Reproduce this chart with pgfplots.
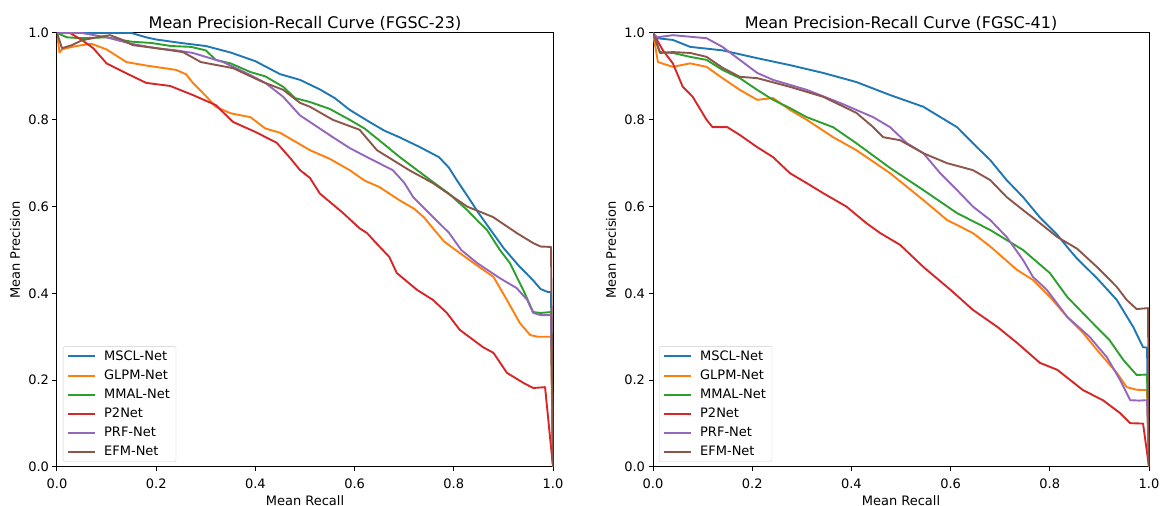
\documentclass[border=0pt]{standalone}
\usepackage{pgfplots}
\pgfplotsset{compat=1.18}
\usepackage{fontspec}
\setmainfont{DejaVu Sans}
\definecolor{c0}{HTML}{1F77B4}
\definecolor{c1}{HTML}{FF7F0E}
\definecolor{c2}{HTML}{2CA02C}
\definecolor{c3}{HTML}{D62728}
\definecolor{c4}{HTML}{9467BD}
\definecolor{c5}{HTML}{8C564B}
\pgfplotsset{
  pl/.style={line width=1.9pt, line join=round, no markers},
  prstyle/.style={
    scale only axis, width=496pt, height=434pt,
    xmin=0, xmax=1, ymin=0, ymax=1,
    xtick={0,0.2,0.4,0.6,0.8,1.0}, ytick={0,0.2,0.4,0.6,0.8,1.0},
    xtick pos=left, ytick pos=left, tick align=outside,
    major tick length=4.5pt,
    every tick/.style={black, line width=1pt},
    axis line style={black, line width=1pt},
    /pgf/number format/assume math mode=true,
    /pgf/number format/fixed, /pgf/number format/fixed zerofill, /pgf/number format/precision=1,
    tick label style={font=\fontsize{13}{15}\selectfont},
    xticklabel style={yshift=-4pt},
    xlabel={Mean Recall}, ylabel={Mean Precision},
    label style={font=\fontsize{13}{15}\selectfont},
    xlabel style={at={(axis description cs:0.5,0)}, anchor=base, yshift=-38pt},
    ylabel style={at={(axis description cs:-0.0847,0.5)}, anchor=center},
    title style={at={(axis description cs:0.5,1)}, anchor=base, yshift=-2pt, inner sep=0pt, font=\fontsize{16}{19}\selectfont},
    legend cell align=left,
    legend style={at={(axis description cs:0,0)}, anchor=south west, xshift=6pt, yshift=5pt,
      draw=black!20, rounded corners=2pt, font=\fontsize{13}{15}\selectfont,
      inner xsep=4pt, inner ysep=2.5pt, row sep=4pt},
    legend image code/.code={\draw[#1, line width=2pt] (0pt,0pt) -- (27pt,0pt); \path (33pt,0pt);},
  }
}
\begin{document}
\begin{tikzpicture}
\begin{axis}[prstyle, title={Mean Precision-Recall Curve (FGSC-23)}]
\addplot[c0, pl] coordinates {(0,1) (0.05,1) (0.1,1) (0.15,1) (0.18,0.99) (0.2,0.985) (0.25,0.977) (0.3,0.97) (0.35,0.955) (0.4,0.935) (0.45,0.905) (0.49,0.892) (0.53,0.87) (0.56,0.85) (0.59,0.823) (0.63,0.795) (0.66,0.775) (0.69,0.76) (0.73,0.738) (0.77,0.714) (0.79,0.69) (0.806,0.661) (0.83,0.62) (0.85,0.585) (0.875,0.545) (0.9,0.505) (0.93,0.465) (0.96,0.43) (0.975,0.41) (0.99,0.403) (0.996,0.403) (1.0,0)};
\addlegendentry{MSCL-Net}
\addplot[c1, pl] coordinates {(0,1) (0.005,0.955) (0.01,0.962) (0.03,0.968) (0.05,0.972) (0.07,0.975) (0.1,0.962) (0.14,0.933) (0.18,0.925) (0.24,0.915) (0.26,0.905) (0.274,0.885) (0.3,0.855) (0.32,0.83) (0.35,0.815) (0.39,0.806) (0.42,0.78) (0.45,0.77) (0.48,0.75) (0.51,0.73) (0.55,0.71) (0.59,0.684) (0.62,0.66) (0.65,0.645) (0.69,0.615) (0.72,0.595) (0.74,0.575) (0.758,0.55) (0.78,0.52) (0.8,0.503) (0.84,0.47) (0.88,0.438) (0.907,0.385) (0.933,0.332) (0.954,0.304) (0.97,0.30) (0.996,0.30) (1.0,0)};
\addlegendentry{GLPM-Net}
\addplot[c2, pl] coordinates {(0,1) (0.02,0.99) (0.05,0.988) (0.1,0.99) (0.15,0.98) (0.19,0.977) (0.23,0.97) (0.27,0.968) (0.3,0.96) (0.32,0.938) (0.35,0.93) (0.39,0.91) (0.42,0.9) (0.456,0.876) (0.48,0.85) (0.51,0.841) (0.55,0.825) (0.59,0.80) (0.62,0.78) (0.657,0.746) (0.69,0.715) (0.726,0.684) (0.76,0.655) (0.79,0.63) (0.827,0.592) (0.85,0.565) (0.867,0.546) (0.893,0.5) (0.913,0.47) (0.94,0.408) (0.96,0.357) (0.975,0.355) (0.996,0.357) (1.0,0)};
\addlegendentry{MMAL-Net}
\addplot[c3, pl] coordinates {(0,1) (0.026,1) (0.05,0.984) (0.073,0.965) (0.1,0.93) (0.14,0.907) (0.18,0.885) (0.228,0.878) (0.274,0.857) (0.32,0.834) (0.355,0.795) (0.4,0.772) (0.443,0.747) (0.47,0.712) (0.49,0.684) (0.51,0.666) (0.53,0.63) (0.577,0.585) (0.61,0.55) (0.625,0.539) (0.65,0.508) (0.67,0.484) (0.685,0.447) (0.726,0.408) (0.758,0.385) (0.786,0.355) (0.812,0.316) (0.859,0.276) (0.88,0.263) (0.907,0.217) (0.94,0.194) (0.96,0.182) (0.984,0.184) (1.0,0)};
\addlegendentry{P2Net}
\addplot[c4, pl] coordinates {(0,1) (0.05,1) (0.1,0.99) (0.15,0.975) (0.2,0.965) (0.24,0.96) (0.274,0.954) (0.3,0.945) (0.335,0.933) (0.39,0.903) (0.42,0.885) (0.456,0.853) (0.49,0.81) (0.51,0.795) (0.556,0.76) (0.59,0.735) (0.625,0.714) (0.677,0.684) (0.7,0.655) (0.718,0.622) (0.758,0.576) (0.79,0.54) (0.815,0.5) (0.847,0.47) (0.893,0.435) (0.927,0.412) (0.948,0.385) (0.96,0.355) (0.975,0.35) (0.996,0.35) (1.0,0)};
\addlegendentry{PRF-Net}
\addplot[c5, pl] coordinates {(0,1) (0.01,0.965) (0.03,0.972) (0.05,0.983) (0.08,0.99) (0.107,0.995) (0.13,0.985) (0.153,0.972) (0.2,0.965) (0.254,0.956) (0.29,0.933) (0.355,0.919) (0.415,0.887) (0.456,0.869) (0.49,0.839) (0.51,0.83) (0.556,0.80) (0.61,0.777) (0.645,0.73) (0.71,0.684) (0.758,0.654) (0.827,0.6) (0.879,0.576) (0.927,0.539) (0.96,0.516) (0.975,0.508) (0.996,0.507) (1.0,0)};
\addlegendentry{EFM-Net}
\end{axis}
\begin{axis}[prstyle, xshift=596pt, title={Mean Precision-Recall Curve (FGSC-41)}]
\addplot[c0, pl] coordinates {(0,1) (0.008,0.988) (0.04,0.984) (0.075,0.968) (0.14,0.96) (0.21,0.942) (0.276,0.926) (0.343,0.908) (0.41,0.887) (0.478,0.857) (0.545,0.83) (0.613,0.783) (0.645,0.746) (0.68,0.707) (0.713,0.661) (0.746,0.622) (0.78,0.575) (0.815,0.535) (0.84,0.5) (0.855,0.48) (0.895,0.435) (0.935,0.385) (0.968,0.323) (0.988,0.276) (0.996,0.275) (1.0,0)};
\addlegendentry{MSCL-Net}
\addplot[c1, pl] coordinates {(0,1) (0.01,0.933) (0.04,0.922) (0.075,0.93) (0.108,0.922) (0.14,0.896) (0.175,0.869) (0.21,0.846) (0.242,0.85) (0.276,0.823) (0.31,0.80) (0.363,0.76) (0.41,0.73) (0.478,0.677) (0.545,0.615) (0.593,0.569) (0.645,0.539) (0.68,0.508) (0.734,0.454) (0.766,0.431) (0.80,0.392) (0.835,0.346) (0.867,0.309) (0.90,0.263) (0.935,0.217) (0.955,0.184) (0.975,0.178) (0.996,0.177) (1.0,0)};
\addlegendentry{GLPM-Net}
\addplot[c2, pl] coordinates {(0,1) (0.014,0.956) (0.04,0.954) (0.075,0.945) (0.108,0.938) (0.14,0.915) (0.175,0.896) (0.21,0.869) (0.242,0.846) (0.276,0.827) (0.31,0.806) (0.363,0.783) (0.41,0.746) (0.478,0.689) (0.545,0.638) (0.613,0.585) (0.68,0.546) (0.746,0.5) (0.80,0.447) (0.835,0.392) (0.88,0.339) (0.92,0.293) (0.948,0.247) (0.975,0.212) (0.996,0.213) (1.0,0)};
\addlegendentry{MMAL-Net}
\addplot[c3, pl] coordinates {(0,1) (0.02,0.96) (0.04,0.93) (0.06,0.876) (0.08,0.853) (0.108,0.80) (0.12,0.783) (0.15,0.783) (0.175,0.765) (0.21,0.737) (0.242,0.714) (0.276,0.677) (0.31,0.654) (0.343,0.631) (0.39,0.60) (0.43,0.562) (0.458,0.539) (0.498,0.512) (0.545,0.461) (0.6,0.408) (0.645,0.362) (0.694,0.323) (0.734,0.286) (0.78,0.24) (0.815,0.224) (0.867,0.177) (0.907,0.154) (0.942,0.124) (0.962,0.101) (0.988,0.10) (1.0,0)};
\addlegendentry{P2Net}
\addplot[c4, pl] coordinates {(0,1) (0.008,0.99) (0.04,0.995) (0.108,0.988) (0.14,0.968) (0.175,0.938) (0.21,0.908) (0.242,0.892) (0.31,0.869) (0.377,0.839) (0.444,0.806) (0.478,0.783) (0.512,0.746) (0.545,0.723) (0.579,0.677) (0.613,0.638) (0.645,0.60) (0.68,0.569) (0.713,0.53) (0.746,0.477) (0.766,0.438) (0.794,0.408) (0.835,0.346) (0.88,0.30) (0.915,0.253) (0.942,0.20) (0.962,0.154) (0.98,0.153) (0.996,0.154) (1.0,0)};
\addlegendentry{PRF-Net}
\addplot[c5, pl] coordinates {(0,1) (0.014,0.954) (0.04,0.956) (0.075,0.954) (0.108,0.945) (0.14,0.92) (0.175,0.899) (0.21,0.896) (0.276,0.876) (0.343,0.853) (0.41,0.816) (0.444,0.783) (0.464,0.76) (0.498,0.753) (0.545,0.723) (0.593,0.70) (0.645,0.684) (0.68,0.661) (0.713,0.622) (0.746,0.592) (0.78,0.562) (0.815,0.53) (0.855,0.503) (0.895,0.461) (0.935,0.415) (0.955,0.385) (0.975,0.364) (0.998,0.366) (1.0,0)};
\addlegendentry{EFM-Net}
\end{axis}
\pgfresetboundingbox
\path[use as bounding box] (-57pt,-39pt) rectangle (1105pt,467pt);
\end{tikzpicture}
\end{document}
